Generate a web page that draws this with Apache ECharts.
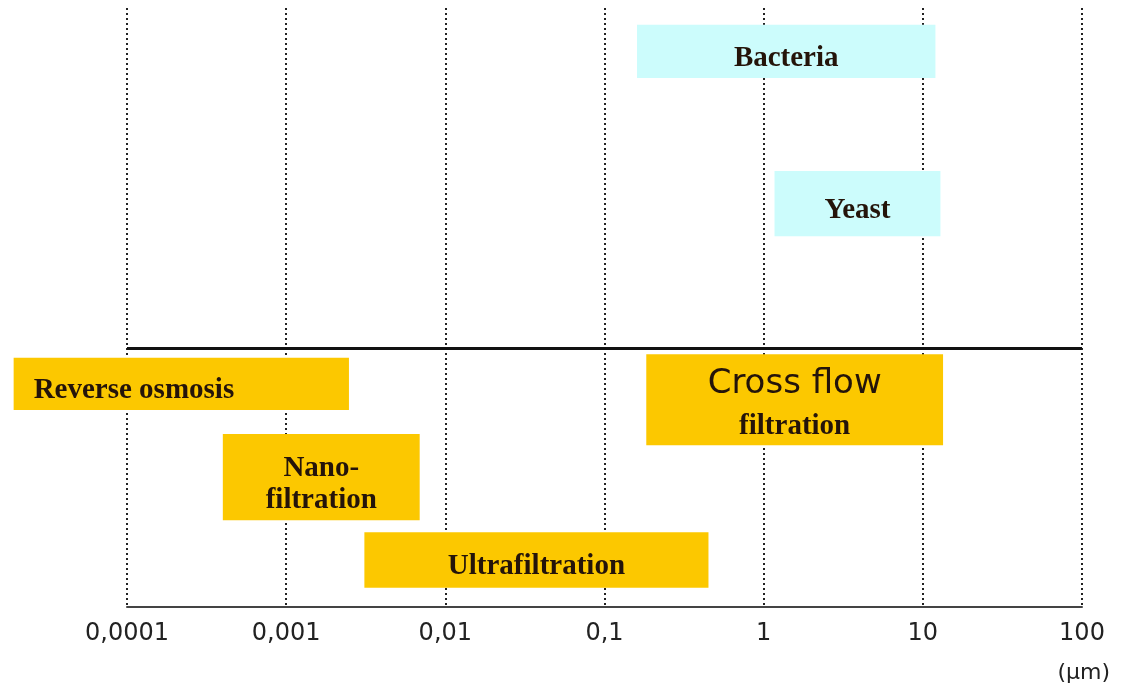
<!DOCTYPE html>
<html>
<head>
<meta charset="utf-8">
<script src="https://cdn.jsdelivr.net/npm/echarts@6/dist/echarts.min.js"></script>
<style>
  html, body { margin: 0; padding: 0; background: #fff; }
  #main { width: 1128px; height: 693px; }
</style>
</head>
<body>
<div id="main"></div>
<script>
// size ranges (µm) and vertical band of each box
const labels = ['Bacteria', 'Yeast', 'Reverse osmosis', '{c|Cross flow}\n{f|filtration}', 'Nano-\nfiltration', 'Ultrafiltration'];
const kinds = ['organism', 'organism', 'process', 'process', 'process', 'process'];
const sizeFrom = [0.16, 1.17, 0.0000194, 0.183, 0.0004, 0.0031];
const sizeTo = [12.0, 12.9, 0.00248, 13.4, 0.0069, 0.45];
const bandLow = [88.3, 61.9, 32.9, 27.0, 14.5, 3.2];
const bandHigh = [97.2, 72.8, 41.6, 42.2, 28.9, 12.5];
const tickLabels = ['0,0001', '0,001', '0,01', '0,1', '1', '10', '100'];
const dividerLevel = 43.2;

const colors = { organism: '#ccfcfc', process: '#fcc800' };

const chart = echarts.init(document.getElementById('main'));

const data = labels.map((l, i) => [sizeFrom[i], sizeTo[i], bandLow[i], bandHigh[i], i]);

chart.setOption({
  animation: false,
  grid: { left: 127, right: 46, top: 8, bottom: 86 },
  xAxis: {
    type: 'log',
    logBase: 10,
    min: 0.0001,
    max: 100,
    axisLine: { show: true, lineStyle: { color: '#444', width: 2 } },
    axisTick: { show: false },
    axisLabel: {
      margin: 15,
      color: '#222',
      fontFamily: 'DejaVu Sans',
      fontSize: 24,
      formatter: (v, i) => tickLabels[i]
    },
    splitLine: { show: true, lineStyle: { color: '#222', width: 2, type: [2, 3] } },
    minorSplitLine: { show: false }
  },
  yAxis: { type: 'value', min: 0, max: 100, show: false, splitLine: { show: false } },
  graphic: [{
    type: 'text',
    right: 18,
    top: 662,
    style: { text: '(\u00b5m)', font: '22px "DejaVu Sans"', fill: '#222' }
  }],
  series: [{
    type: 'custom',
    clip: false,
    data: data,
    renderItem: function (params, api) {
      const i = api.value(4);
      const p0 = api.coord([api.value(0), api.value(3)]);
      const p1 = api.coord([api.value(1), api.value(2)]);
      const leftAlign = i === 2;
      const cx = leftAlign ? p0[0] + 20 : (p0[0] + p1[0]) / 2;
      const cy = (p0[1] + p1[1]) / 2 + (i === 3 ? 4 : 7);
      return {
        type: 'group',
        children: [{
          type: 'rect',
          shape: { x: p0[0], y: p0[1], width: p1[0] - p0[0], height: p1[1] - p0[1] },
          style: { fill: colors[kinds[i]] }
        }, {
          type: 'text',
          style: {
            text: labels[i],
            x: cx,
            y: cy,
            align: leftAlign ? 'left' : 'center',
            verticalAlign: 'middle',
            font: 'bold 29px "Liberation Serif"',
            fill: '#24140a',
            lineHeight: 32,
            rich: {
              c: { font: '34px "DejaVu Sans"', fill: '#24140a', lineHeight: 46 },
              f: { font: 'bold 29px "Liberation Serif"', fill: '#24140a', lineHeight: 40 }
            }
          }
        }]
      };
    },
    markLine: {
      silent: true,
      symbol: 'none',
      label: { show: false },
      lineStyle: { color: '#111', width: 3, type: 'solid' },
      data: [{ yAxis: dividerLevel }]
    }
  }]
});
</script>
</body>
</html>
